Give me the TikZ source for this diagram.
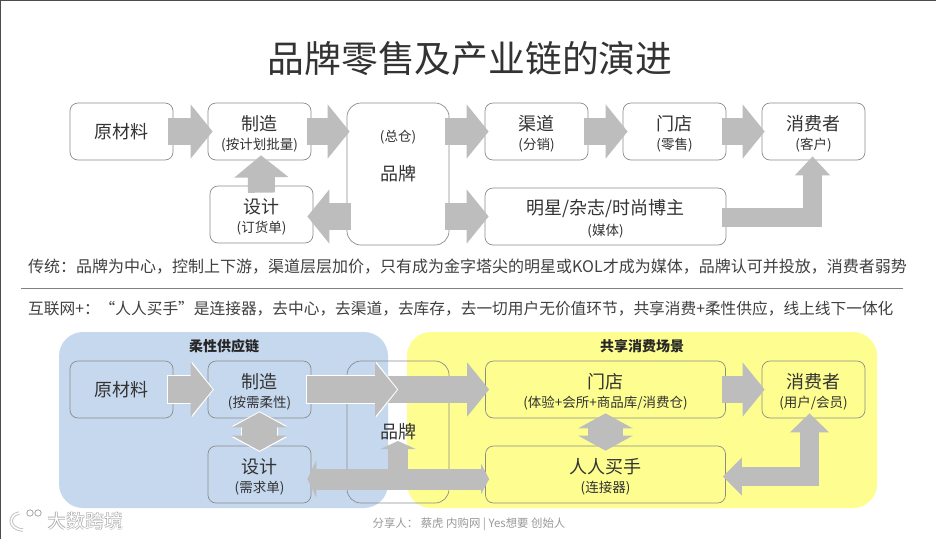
\documentclass[tikz,border=0pt]{standalone}
\usepackage{fontspec}
\usepackage{tikz}
\usepackage{xcolor}
\usetikzlibrary{arrows.meta,positioning,backgrounds}
\setmainfont{Noto Sans CJK SC}
\definecolor{boxline}{HTML}{8C8C8C}
\definecolor{blockgray}{HTML}{BDBDBD}
\definecolor{softblue}{HTML}{C6D8EE}
\definecolor{softyellow}{HTML}{FEFD90}
\newcommand{\tbox}[2]{\rule{0pt}{20pt}{\fontsize{18}{20}\selectfont #1}\\[5pt]{\fontsize{13.5}{15}\selectfont #2}}

\begin{document}
\begin{tikzpicture}[
  x=1pt, y=-1pt,
  chainbox/.style={draw=boxline, rounded corners=8pt, line width=0.7pt, align=center, inner sep=0pt, text=black!80},
  bigtext/.style={font=\fontsize{18}{20}\selectfont, text=black!80},
  blockarrow/.style={-{Triangle[length=22pt, width=26pt 1]}, draw=blockgray, line width=27pt},
  slimarrow/.style={-{Triangle[length=19pt, width=15pt 1]}, draw=blockgray, line width=19pt},
  twinarrow/.style={{Triangle[length=15pt, width=19pt 1]}-{Triangle[length=15pt, width=19pt 1]}, draw=blockgray, line width=35pt},
  halo/.style={preaction={draw=white, line width=#1, shorten <=-1pt, shorten >=-1.2pt}},
  zone/.style={rounded corners=24pt, draw=none},
  sidenote/.style={anchor=west, text=black!75, inner sep=0pt},
  zonetitle/.style={font=\fontsize{14}{16}\selectfont\bfseries, text=black!85}
]
\useasboundingbox (0,0) rectangle (936,539);
\fill[white] (0,0) rectangle (936,539);
\draw[black!70, line width=1.5pt] (0.7,539) -- (0.7,0.7) -- (936,0.7);

\node[font=\fontsize{36.8}{40}\selectfont, text=black!80] (title) at (470,59) {品牌零售及产业链的演进};

% upper chain
\node[chainbox, minimum width=103pt, minimum height=57pt] (raw) at (121.5,131.5) {\fontsize{18}{20}\selectfont 原材料};
\node[chainbox, minimum width=103pt, minimum height=57pt] (make) at (259.5,131.5) {\tbox{制造}{(按计划批量)}};
\node[chainbox, minimum width=102pt, minimum height=142pt, rounded corners=14pt] (brand) at (398,174) {};
\node[font=\fontsize{13.5}{15}\selectfont, text=black!80] (store) at (398,137) {(总仓)};
\node[bigtext] (brandname) at (398,174) {品牌};
\node[chainbox, minimum width=103pt, minimum height=57pt] (design) at (261.5,214.5) {\tbox{设计}{(订货单)}};
\node[chainbox, minimum width=103pt, minimum height=57pt] (channel) at (536.5,131.5) {\tbox{渠道}{(分销)}};
\node[chainbox, minimum width=103pt, minimum height=57pt] (shop) at (674.5,131.5) {\tbox{门店}{(零售)}};
\node[chainbox, minimum width=103pt, minimum height=57pt] (buyer) at (813.5,131.5) {\tbox{消费者}{(客户)}};
\node[chainbox, minimum width=241pt, minimum height=57pt] (media) at (605.5,216.5) {\tbox{明星/杂志/时尚博主}{(媒体)}};

\draw[blockarrow] ([xshift=-5pt]raw.east) -- ([xshift=5pt]make.west);
\draw[blockarrow] ([xshift=-4pt]make.east) -- ([xshift=3pt]brand.west|-make.west);
\draw[blockarrow] ([xshift=-4pt]brand.east|-channel.west) -- ([xshift=4pt]channel.west);
\draw[blockarrow] ([xshift=-4pt]channel.east) -- ([xshift=5pt]shop.west);
\draw[blockarrow] ([xshift=-4pt]shop.east) -- ([xshift=3pt]buyer.west);
\draw[blockarrow] ([yshift=-7pt]design.north) -- ([xshift=1.5pt,yshift=5pt]make.south);
\draw[blockarrow] ([xshift=4pt]brand.west|-media.west) -- ([xshift=-6pt,yshift=-2pt]design.east);
\draw[blockarrow] ([xshift=-4pt]brand.east|-media.west) -- ([xshift=4pt]media.west);
\coordinate (mediabend) at (812.5,217.5);
\draw[slimarrow] ([xshift=-4pt,yshift=-1pt]media.east) -- (mediabend) -- ([xshift=-1pt,yshift=4pt]buyer.south);

% side notes
\node[sidenote, font=\fontsize{16}{18}\selectfont] (oldnote) at (28,267) {传统：品牌为中心，控制上下游，渠道层层加价，只有成为金字塔尖的明星或KOL才成为媒体，品牌认可并投放，消费者弱势};
\coordinate (ruleleft) at (21,288.5);
\coordinate (ruleright) at (903,288.5);
\draw[black!50, line width=0.8pt] (ruleleft) -- (ruleright);
\node[sidenote, font=\fontsize{15.7}{18}\selectfont] (newnote) at (28,309) {互联网+：“人人买手”是连接器，去中心，去渠道，去库存，去一切用户无价值环节，共享消费+柔性供应，线上线下一体化};

% lower chain
\fill[softblue, zone] (59,332) rectangle (388,508);
\fill[softyellow, zone] (407,332) rectangle (877,508);
\node[zonetitle] (softtitle) at (224,346) {柔性供应链};
\node[zonetitle] (sharetitle) at (642,346) {共享消费场景};

\node[chainbox, minimum width=103pt, minimum height=57pt] (rawb) at (121.5,389.5) {\fontsize{18}{20}\selectfont 原材料};
\node[chainbox, minimum width=103pt, minimum height=57pt] (makeb) at (259.5,389.5) {\tbox{制造}{(按需柔性)}};
\node[chainbox, minimum width=103pt, minimum height=57pt] (designb) at (259.5,474.5) {\tbox{设计}{(需求单)}};
\node[chainbox, minimum width=102pt, minimum height=142pt, rounded corners=14pt] (brandb) at (398,432) {};
\node[chainbox, minimum width=240pt, minimum height=57pt] (shopb) at (605.5,389.5) {\tbox{门店}{(体验+会所+商品库/消费仓)}};
\node[chainbox, minimum width=240pt, minimum height=57pt] (buyerhand) at (605.5,474.5) {\tbox{人人买手}{(连接器)}};
\node[chainbox, minimum width=103pt, minimum height=57pt] (buyerb) at (813.5,389.5) {\tbox{消费者}{(用户/会员)}};

\draw[blockarrow, halo=28.4pt] ([xshift=-5pt]rawb.east) -- ([xshift=5pt]makeb.west);
\draw[blockarrow] ([xshift=-12pt]brandb.center|-makeb.east) -- ([xshift=4pt]shopb.west);
\draw[blockarrow, halo=28.4pt] ([xshift=-4pt]makeb.east) -- ([xshift=-1pt]brandb.center|-makeb.east);
\draw[twinarrow, halo=36.4pt] ([yshift=6pt]makeb.south) -- ([yshift=-5pt]designb.north);
\draw[twinarrow] ([yshift=5pt]shopb.south) -- ([yshift=-5pt]buyerhand.north);
\draw[{Triangle[length=9pt, width=37pt]}-{Triangle[length=8pt, width=30pt]}, draw=blockgray, line width=21pt] ([xshift=-4pt,yshift=-4.5pt]designb.east) -- ([xshift=4pt,yshift=-4.5pt]buyerhand.west);
\draw[-{Triangle[length=8pt, width=35pt]}, draw=blockgray, line width=20pt] ([yshift=-38pt]brandb.center) -- ([yshift=-9pt]brandb.center);
\coordinate (handbend) at (809.5,476.5);
\draw[{Triangle[length=19pt, width=37pt]}-{Triangle[length=19pt, width=38pt]}, draw=blockgray, line width=19pt] ([xshift=-3pt,yshift=-2pt]buyerhand.east) -- (handbend) -- ([xshift=-4pt,yshift=5pt]buyerb.south);
\draw[blockarrow] ([xshift=-4pt]shopb.east) -- ([xshift=3pt]buyerb.west);
\node[bigtext] (brandbname) at (398,432) {品牌};

% footer
\node[font=\fontsize{11.4}{13}\selectfont, text=black!40] (sharer) at (469,524.5) {分享人： 蔡虎 内购网 | Yes想要 创始人};
\draw[black!25, line width=3.4pt] (19,513) .. controls (8,515) and (8,529) .. (23,530);
\draw[white, line width=1.6pt] (19,513) .. controls (8,515) and (8,529) .. (23,530);
\draw[black!35, fill=white, line width=0.8pt] (30,513) circle (3.2pt) (38,513) circle (3.2pt);
\node[font=\fontsize{19}{21}\selectfont\bfseries, text=black!35] (markback) at (85,521) {大数跨境};
\node[font=\fontsize{19}{21}\selectfont, text=white] (markfront) at (85,521) {大数跨境};
\end{tikzpicture}
\end{document}
